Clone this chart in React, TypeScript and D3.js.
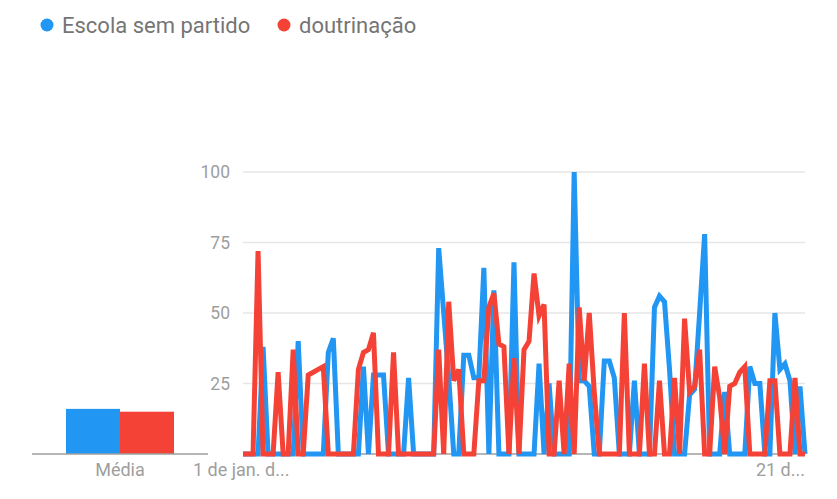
import * as d3 from "d3";

// weekly interest, 0..100
const escola = [
  0, 0, 0, 0, 38, 0, 0, 0, 0, 0,
  0, 40, 0, 0, 0, 0, 0, 36, 41, 0,
  0, 0, 0, 0, 31, 0, 28, 28, 28, 0,
  0, 0, 0, 27, 0, 0, 0, 0, 0, 73,
  50, 27, 0, 0, 35, 35, 27, 27, 66, 0,
  58, 0, 0, 0, 68, 0, 0, 0, 0, 32,
  0, 25, 0, 0, 0, 0, 100, 26, 26, 24,
  0, 0, 33, 33, 27, 0, 0, 0, 26, 0,
  0, 0, 52, 56, 54, 30, 0, 0, 0, 21,
  23, 50, 78, 0, 0, 0, 22, 0, 0, 0,
  0, 31, 25, 25, 0, 0, 50, 30, 32, 26,
  0, 24, 0,
];
const doutrinacao = [
  0, 0, 0, 72, 0, 0, 0, 29, 0, 0,
  37, 0, 0, 28, 29, 30, 31, 0, 0, 0,
  0, 0, 0, 30, 36, 37, 43, 0, 0, 0,
  36, 0, 0, 0, 0, 0, 0, 0, 0, 37,
  0, 54, 26, 30, 0, 0, 0, 26, 26, 52,
  57, 39, 38, 0, 34, 0, 37, 40, 64, 49,
  53, 0, 0, 26, 0, 32, 0, 52, 26, 50,
  22, 0, 0, 0, 0, 0, 50, 0, 0, 0,
  32, 0, 0, 26, 0, 0, 27, 0, 48, 22,
  24, 37, 0, 0, 31, 20, 0, 24, 25, 29,
  31, 0, 0, 0, 0, 26, 26, 0, 0, 0,
  27, 0, 0,
];
const seriesNames = ["Escola sem partido", "doutrinação"];
const seriesColors = ["#2196f3", "#f44336"];
const averages = [16, 15];
const yTicks = [25, 50, 75, 100];
const xTickLabels = ["1 de jan. d...", "21 d..."];
const avgLabel = "Média";

const W = 837;
const H = 499;
const FONT = "Roboto, 'Noto Sans', sans-serif";

export default function App() {
  const x = d3.scaleLinear().domain([0, escola.length - 1]).range([243, 805]);
  const y = d3.scaleLinear().domain([0, 100]).range([454, 172]);
  const bx = d3.scaleBand().domain(seriesNames).range([66, 174]).padding(0);

  const line = d3.line<number>().x((_, i) => x(i)).y(d => y(d));
  const series = [escola, doutrinacao];

  return (
    <svg width={W} height={H} style={{ position: "absolute", left: 0, top: 0, background: "#fff" }}
      fontFamily={FONT}>
      {/* legend */}
      <g>
        <circle cx={47} cy={25} r={6.5} fill={seriesColors[0]} />
        <text x={62} y={33} fontSize={22} fill="#757575">{seriesNames[0]}</text>
        <circle cx={284} cy={25} r={6.5} fill={seriesColors[1]} />
        <text x={299} y={33} fontSize={22} fill="#757575">{seriesNames[1]}</text>
      </g>

      {/* average bars */}
      {averages.map((v, i) => (
        <rect key={i} x={bx(seriesNames[i])} y={y(v)} width={bx.bandwidth()}
          height={y(0) - y(v)} fill={seriesColors[i]} />
      ))}
      <line x1={32} x2={208} y1={y(0)} y2={y(0)} stroke="#9e9e9e" strokeWidth={1.5} />
      <text x={120} y={476} textAnchor="middle" fontSize={18} fill="#9e9e9e">{avgLabel}</text>

      {/* grid */}
      {yTicks.map(t => (
        <g key={t}>
          <line x1={243} x2={805} y1={y(t)} y2={y(t)} stroke="#e6e6e6" strokeWidth={1.5} />
          <text x={230} y={y(t) + 6} textAnchor="end" fontSize={17.5} fill="#9e9e9e">{t}</text>
        </g>
      ))}
      <line x1={243} x2={805} y1={y(0)} y2={y(0)} stroke="#9e9e9e" strokeWidth={1.5} />

      {/* lines */}
      {series.map((s, i) => (
        <path key={i} d={line(s) || ""} fill="none" stroke={seriesColors[i]} strokeWidth={5} />
      ))}

      {/* x labels */}
      <text x={193} y={476} fontSize={18} fill="#9e9e9e">{xTickLabels[0]}</text>
      <text x={805} y={476} textAnchor="end" fontSize={18} fill="#9e9e9e">{xTickLabels[1]}</text>
    </svg>
  );
}
